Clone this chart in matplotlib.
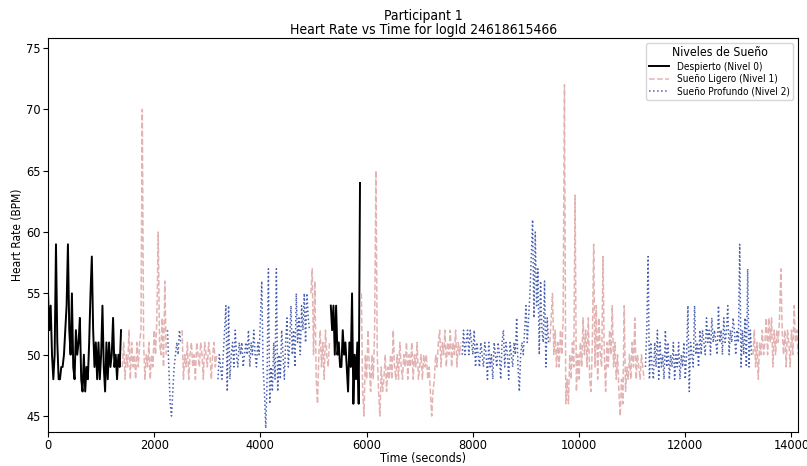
import matplotlib
matplotlib.use("Agg")
import matplotlib.pyplot as plt
import numpy as np

plt.rcParams['font.stretch'] = 'condensed'

DT = 25  # seconds between heart-rate samples

# heart rate (BPM) per sleep segment
wake_1 = [55, 52, 54, 50, 48, 50, 59, 51, 48, 48, 49, 49, 50, 52, 54, 59, 52, 50, 55, 49,
          48, 52, 50, 51, 53, 48, 47, 50, 47, 49, 48, 51, 55, 58, 52, 49, 51, 48, 51, 48,
          50, 54, 49, 47, 51, 48, 51, 49, 50, 53, 49, 50, 48, 50, 49, 52]
light_1 = [49, 51, 48, 50, 49, 52, 48, 51, 49, 50, 48, 51, 49, 51, 52, 70, 51, 48, 50, 49,
           51, 48, 50, 49, 52, 50, 53, 60, 51, 50, 53, 49, 56, 50]
deep_1 = [52, 49, 46, 45, 47, 49, 50, 51, 50, 52, 51]
light_2 = [52, 48, 50, 49, 51, 48, 50, 51, 49, 50, 48, 51, 50, 49, 51, 50, 48, 51, 50, 49,
           51, 50, 48, 50, 51, 49, 50]
deep_2 = [48, 50, 49, 48, 50, 52, 54, 47, 54, 48, 50, 51, 49, 52, 50, 49, 51, 50, 51, 49,
          50, 51, 50, 52, 49, 51, 50, 52, 50, 49, 51, 50, 53, 56, 49, 47, 44, 48, 57, 46,
          49, 47, 51, 48, 57, 47, 50, 48, 52, 50, 48, 51, 53, 49, 51, 54, 50, 52, 49, 55,
          51, 53, 50, 54, 52, 55, 51, 55, 53, 52]
light_3 = [55, 57, 50, 56, 48, 46, 50, 52, 49, 51, 48, 52, 50, 49, 51]
wake_2 = [54, 52, 54, 50, 54, 50, 51, 49, 49, 52, 50, 51, 49, 47, 51, 49, 55, 46, 50, 48,
          51, 46, 64]
light_4 = [55, 47, 45, 50, 48, 52, 49, 47, 50, 48, 52, 65, 50, 47, 45, 49, 47, 48, 50, 47,
           49, 48, 50, 48, 52, 49, 48, 50, 48, 51, 49, 48, 50, 49, 51, 48, 50, 49, 51, 48,
           50, 49, 51, 48, 49, 50, 48, 50, 49, 50, 48, 49, 47, 45, 47, 48, 50, 49, 51, 52,
           49, 51, 50, 52, 49, 51, 50, 52, 49, 51, 50, 52, 49, 51, 50, 51]
deep_3 = [50, 52, 50, 51, 52, 50, 52, 51, 50, 52, 49, 51, 50, 49, 51, 50, 49, 51, 50, 48,
          51, 49, 50, 48, 51, 50, 49, 51, 50, 48, 51, 52, 49, 51, 50, 48, 51, 50, 49, 51,
          50, 53, 49, 47, 50, 51, 50, 52, 54, 51, 53, 55, 58, 61, 53, 60, 54, 57, 50, 56,
          52, 51, 56, 49, 53, 51]
light_5 = [51, 53, 55, 50, 52, 49, 51, 49, 52, 50, 53, 72, 46, 48, 46, 50, 48, 51, 49, 63,
           47, 50, 48, 51, 49, 53, 50, 52, 49, 53, 48, 47, 51, 59, 49, 54, 48, 53, 50, 49,
           58, 50, 47, 51, 49, 52, 50, 54, 49, 51, 48, 50, 47, 45, 48, 46, 54, 47, 49, 48,
           50, 48, 51, 49, 53, 48, 50, 49, 48, 50, 49, 48]
deep_4 = [49, 52, 58, 48, 51, 49, 48, 51, 49, 52, 48, 51, 49, 50, 48, 52, 49, 51, 48, 50,
          49, 51, 48, 50, 49, 51, 48, 50, 49, 51, 48, 50, 54, 47, 51, 50, 49, 54, 50, 51,
          49, 52, 50, 52, 51, 50, 53, 51, 52, 50, 53, 51, 52, 51, 50, 54, 51, 52, 50, 53,
          51, 52, 54, 50, 52, 51, 53, 52, 50, 52, 51, 59, 49, 52, 50, 53, 49, 57, 49, 52,
          50]
light_6 = [50, 52, 49, 51, 48, 51, 50, 52, 50, 51, 53, 50, 53, 51, 53, 49, 52, 50, 52, 51,
           53, 57, 52, 50, 52, 49, 52, 51, 49, 52, 50, 54, 51, 52, 50]

seg_hr = [wake_1, light_1, deep_1, light_2, deep_2, light_3, wake_2, light_4, deep_3,
          light_5, deep_4, light_6]
seg_level = [0, 1, 2, 1, 2, 1, 0, 1, 2, 1, 2, 1]
seg_start = [0, 1400, 2250, 2525, 3200, 4950, 5325, 5900, 7800, 9450, 11250, 13275]

level_names = ["Despierto (Nivel 0)", "Sueño Ligero (Nivel 1)", "Sueño Profundo (Nivel 2)"]
level_style = [dict(color="black", linestyle="-", linewidth=1.4),
               dict(color="#e3b3b3", linestyle="--", linewidth=1.1),
               dict(color="#4a5fae", linestyle=":", linewidth=1.1)]

fig, ax = plt.subplots(figsize=(8.07, 4.66), dpi=100)
fig.subplots_adjust(left=0.0595, right=0.989, top=0.918, bottom=0.073)

seen = set()
t_end = 0
for hr, lvl, start in zip(seg_hr, seg_level, seg_start):
    t = start + DT * np.arange(len(hr))
    t_end = max(t_end, t[-1])
    label = level_names[lvl] if lvl not in seen else None
    seen.add(lvl)
    ax.plot(t, hr, label=label, **level_style[lvl])

ax.set_xlim(0, t_end)
ax.set_ylim(43.7, 75.8)
ax.set_title("Participant 1\nHeart Rate vs Time for logId 24618615466", fontsize=10,
             pad=3, linespacing=1.0)
ax.set_xlabel("Time (seconds)", fontsize=9, labelpad=0)
ax.set_ylabel("Heart Rate (BPM)", fontsize=8.6, labelpad=2)
ax.tick_params(labelsize=9.2, pad=1.5)

handles, labels = ax.get_legend_handles_labels()
order = [labels.index(n) for n in level_names]
ax.legend([handles[i] for i in order], [labels[i] for i in order],
          title="Niveles de Sueño", loc="upper right", fontsize=7.2, title_fontsize=8.8,
          labelspacing=0.25, borderpad=0.3)

fig.savefig("out.png", dpi=100)
